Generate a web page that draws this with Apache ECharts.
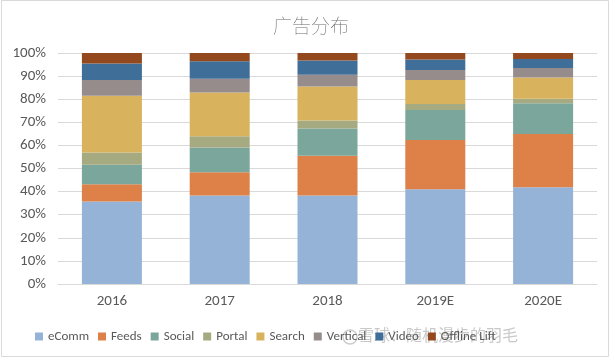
<!DOCTYPE html>
<html><head><meta charset="utf-8">
<script src="https://cdn.jsdelivr.net/npm/echarts@6/dist/echarts.min.js"></script>
<style>html,body{margin:0;padding:0;background:#fff}#c{width:615px;height:363px}</style>
</head><body><div id="c"></div>
<script>
const categories = ['2016','2017','2018','2019E','2020E'];
const seriesNames = ['eComm','Feeds','Social','Portal','Search','Vertical','Video','Offline Lift'];
const eComm = [35.7, 38.3, 38.3, 41.0, 41.9];
const feeds = [7.5, 10.1, 17.2, 21.3, 23.0];
const social = [8.4, 10.7, 11.8, 13.0, 13.3];
const portal = [5.3, 4.9, 3.5, 2.6, 2.0];
const search = [24.6, 18.9, 14.7, 10.4, 9.2];
const vertical = [6.8, 6.0, 5.1, 4.3, 4.1];
const video = [7.2, 7.5, 6.2, 4.6, 3.9];
const offlineLift = [4.5, 3.6, 3.2, 2.8, 2.6];
const colors = ['#95B3D7','#DE8148','#7BA69B','#A6AA80','#D9B25D','#978C8C','#3F6E99','#94481D'];
const allData = [eComm, feeds, social, portal, search, vertical, video, offlineLift];

const chart = echarts.init(document.getElementById('c'));
const font = 'Calibri, Carlito, "Liberation Sans", "Noto Sans", sans-serif';
chart.setOption({
  animation: false,
  backgroundColor: '#fff',
  title: {
    text: '广告分布', left: 306, top: 11, textAlign: 'center',
    textStyle: {color: '#6a6a6a', fontSize: 19, fontWeight: 'lighter', fontFamily: '"Noto Sans CJK SC", sans-serif'}
  },
  grid: {left: 58, right: 18, top: 53, bottom: 79},
  legend: {
    bottom: 15, left: 30, itemWidth: 8, itemHeight: 8, itemGap: 9, icon: 'rect',
    textStyle: {color: '#595959', fontSize: 13, fontFamily: font},
    data: seriesNames
  },
  xAxis: {
    type: 'category', data: categories,
    axisLine: {lineStyle: {color: '#d9d9d9'}}, axisTick: {show: false},
    axisLabel: {color: '#595959', fontSize: 15, margin: 10, fontFamily: font}
  },
  yAxis: {
    type: 'value', min: 0, max: 100, interval: 10,
    axisLabel: {formatter: '{value}%', color: '#595959', fontSize: 15, margin: 12, fontFamily: font},
    splitLine: {lineStyle: {color: '#d9d9d9'}},
    axisLine: {show: false}, axisTick: {show: false}
  },
  series: seriesNames.map((n, i) => ({
    name: n, type: 'bar', stack: 'all', barWidth: 60,
    itemStyle: {color: colors[i]},
    data: allData[i]
  })),
  graphic: [
    {type: 'rect', shape: {x: 1.5, y: 0.5, width: 607, height: 356}, style: {fill: 'none', stroke: '#d9d9d9', lineWidth: 1}, silent: true},
    {type: 'circle', shape: {cx: 350, cy: 337, r: 7}, style: {fill: 'none', stroke: 'rgba(170,170,170,0.6)', lineWidth: 1.5}, silent: true},
    {type: 'text', left: 358, top: 327, style: {text: '雪球：随机漫步的羽毛', fill: 'rgba(165,165,165,0.6)', fontSize: 16, fontFamily: '"Noto Sans CJK SC", sans-serif'}, silent: true}
  ]
});
</script>
</body></html>
